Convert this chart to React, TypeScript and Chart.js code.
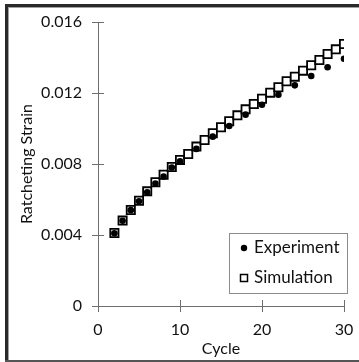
import React, { useEffect, useRef } from "react";
import { Chart, registerables } from "chart.js";

Chart.register(...registerables);

const simCycles = [2,3,4,5,6,7,8,9,10,11,12,13,14,15,16,17,18,19,20,21,22,23,24,25,26,27,28,29,30];
const simStrain = [0.00411,0.00481,0.00541,0.00593,0.00646,0.00697,0.0074,0.00783,0.00823,0.00856,0.00898,0.00935,0.00973,0.01007,0.01041,0.01074,0.01108,0.01138,0.01168,0.01202,0.01232,0.01266,0.01292,0.01326,0.01356,0.01386,0.0142,0.01446,0.01476];
const expCycles = [2,3,4,5,6,7,8,9,10,12,14,16,18,20,22,24,26,28,30];
const expStrain = [0.0041,0.0048,0.0054,0.0059,0.0064,0.0069,0.0073,0.0078,0.00815,0.00885,0.00954,0.01014,0.01078,0.01134,0.0119,0.01243,0.01296,0.01345,0.01393];
const xTicks = [0, 10, 20, 30];
const yTicks = [0, 0.004, 0.008, 0.012, 0.016];

const FONT = "Lato";
const AXIS = "#6e6e6e";
const FS = 16;

const frame = {
  id: "frame",
  beforeDraw(chart: any) {
    const ctx = chart.ctx;
    ctx.save();
    ctx.fillStyle = "#fff";
    ctx.fillRect(0, 0, chart.width, chart.height);
    ctx.fillStyle = "#2a2a2a";
    ctx.fillRect(5, 4, chart.width, 3);
    ctx.fillRect(5, 4, 3, chart.height);
    ctx.fillStyle = "#a0a0a0";
    ctx.fillRect(8, 7, chart.width, 1);
    ctx.fillRect(8, 7, 1, chart.height);
    ctx.fillStyle = "#555";
    ctx.fillRect(5, chart.height - 2, chart.width, 2);
    ctx.restore();
  },
};

const crossTicks = {
  id: "crossTicks",
  afterDraw(chart: any) {
    const ctx = chart.ctx;
    const xs = chart.scales.x;
    const ys = chart.scales.y;
    const ax = xs.getPixelForValue(0);
    const ay = ys.getPixelForValue(0);
    ctx.save();
    ctx.strokeStyle = AXIS;
    ctx.lineWidth = 1;
    ctx.beginPath();
    yTicks.forEach((v) => {
      const py = Math.round(ys.getPixelForValue(v)) + 0.5;
      ctx.moveTo(ax - 6, py);
      ctx.lineTo(ax + 6, py);
    });
    xTicks.forEach((v) => {
      const px = Math.round(xs.getPixelForValue(v)) + 0.5;
      ctx.moveTo(px, ay - 6);
      ctx.lineTo(px, ay + 6);
    });
    ctx.stroke();
    ctx.restore();
  },
};

const boxLegend = {
  id: "boxLegend",
  afterDraw(chart: any) {
    const ctx = chart.ctx;
    const a = chart.chartArea;
    const x0 = a.right - 115;
    const y0 = a.bottom - 73;
    const w = 118;
    const h = 60;
    ctx.save();
    ctx.fillStyle = "#ffffff";
    ctx.fillRect(x0, y0, w, h);
    ctx.strokeStyle = "#8c8c8c";
    ctx.lineWidth = 1;
    ctx.strokeRect(x0 + 0.5, y0 + 0.5, w, h);
    ctx.font = `${FS + 1}px ${FONT}`;
    ctx.textBaseline = "middle";
    ctx.textAlign = "left";
    const ds = chart.data.datasets;
    const mx = x0 + 15;
    const ty = [y0 + 15, y0 + 45];
    ctx.beginPath();
    ctx.arc(mx, ty[0], 3.2, 0, Math.PI * 2);
    ctx.fillStyle = "#000";
    ctx.fill();
    ctx.fillStyle = "#fff";
    ctx.strokeStyle = "#000";
    ctx.lineWidth = 1.5;
    ctx.fillRect(mx - 3.5, ty[1] - 3.5, 7, 7);
    ctx.strokeRect(mx - 3.5, ty[1] - 3.5, 7, 7);
    ctx.fillStyle = "#111";
    ctx.fillText(ds[0].label, mx + 10, ty[0]);
    ctx.fillText(ds[1].label, mx + 10, ty[1]);
    ctx.restore();
  },
};

export default function App() {
  const ref = useRef<HTMLCanvasElement | null>(null);
  useEffect(() => {
    if (!ref.current) return;
    const chart = new Chart(ref.current, {
      type: "scatter",
      data: {
        datasets: [
          {
            label: "Experiment",
            data: expCycles.map((c, i) => ({ x: c, y: expStrain[i] })),
            pointStyle: "circle",
            pointRadius: 3.3,
            backgroundColor: "#000",
            borderColor: "#000",
            borderWidth: 0,
          },
          {
            label: "Simulation",
            data: simCycles.map((c, i) => ({ x: c, y: simStrain[i] })),
            pointStyle: "rect",
            pointRadius: 5.8,
            backgroundColor: "#fff",
            borderColor: "#000",
            borderWidth: 1.8,
          },
        ],
      },
      options: {
        animation: false,
        responsive: false,
        maintainAspectRatio: false,
        layout: { padding: { top: 22, right: 15, left: 0, bottom: 0 } },
        plugins: {
          legend: { display: false },
          tooltip: { enabled: false },
        },
        scales: {
          x: {
            type: "linear",
            min: 0,
            max: 30,
            afterBuildTicks: (s: any) => {
              s.ticks = xTicks.map((v) => ({ value: v }));
            },
            afterFit: (s: any) => {
              s.height = 56;
              s.paddingLeft = 0;
              s.paddingRight = 0;
            },
            grid: { display: false, drawTicks: false },
            border: { display: true, color: AXIS, width: 1 },
            ticks: {
              padding: 14,
              color: "#111",
              font: { family: FONT, size: FS },
              maxRotation: 0,
            },
            title: {
              display: true,
              text: "Cycle",
              color: "#111",
              font: { family: FONT, size: FS },
              padding: { top: 0, bottom: 4 },
            },
          },
          y: {
            type: "linear",
            min: 0,
            max: 0.016,
            afterBuildTicks: (s: any) => {
              s.ticks = yTicks.map((v) => ({ value: v }));
            },
            afterFit: (s: any) => {
              s.width = 98;
              s.paddingTop = 0;
              s.paddingBottom = 0;
            },
            grid: { display: false, drawTicks: false },
            border: { display: true, color: AXIS, width: 1 },
            ticks: {
              padding: 16,
              color: "#111",
              font: { family: FONT, size: FS },
              callback: (v: any) => (v === 0 ? "0" : Number(v).toFixed(3)),
            },
            title: {
              display: true,
              text: "Ratcheting Strain",
              color: "#111",
              font: { family: FONT, size: FS },
              padding: { top: 17, bottom: 0 },
            },
          },
        },
      },
      plugins: [frame, crossTicks, boxLegend],
    });
    return () => chart.destroy();
  }, []);

  return (
    <div style={{ position: "fixed", left: 0, top: 0, width: 359, height: 362, background: "#fff" }}>
      <canvas ref={ref} width={359} height={362} style={{ display: "block", width: 359, height: 362 }} />
    </div>
  );
}
